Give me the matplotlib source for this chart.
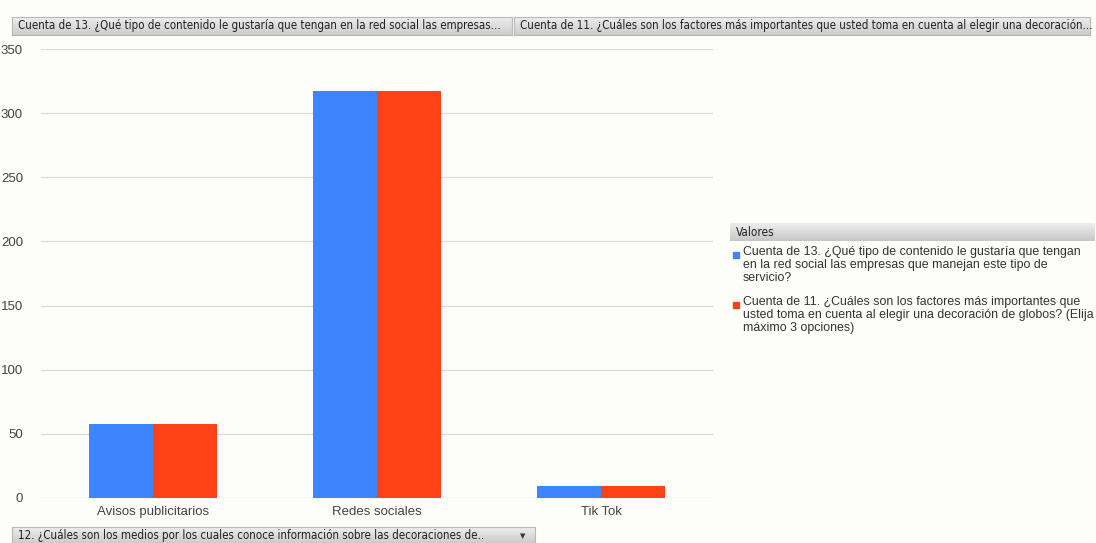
import numpy as np
import matplotlib.pyplot as plt
from matplotlib.patches import Rectangle

categorias = ['Avisos publicitarios', 'Redes sociales', 'Tik Tok']
serie_13 = [58, 317, 9]
serie_11 = [58, 317, 9]
etiqueta_13 = ('Cuenta de 13. ¿Qué tipo de contenido le gustaría que tengan\n'
               'en la red social las empresas que manejan este tipo de\nservicio?')
etiqueta_11 = ('Cuenta de 11. ¿Cuáles son los factores más importantes que\n'
               'usted toma en cuenta al elegir una decoración de globos? (Elija\n'
               'máximo 3 opciones)')
boton_1 = 'Cuenta de 13. ¿Qué tipo de contenido le gustaría que tengan en la red social las empresas...'
boton_2 = 'Cuenta de 11. ¿Cuáles son los factores más importantes que usted toma en cuenta al elegir una decoración...'
boton_eje = '12. ¿Cuáles son los medios por los cuales conoce información sobre las decoraciones de..'

azul = '#3d85fc'
rojo = '#fd4216'
fondo = '#fdfdfa'

plt.rcParams['font.family'] = ['Liberation Sans', 'DejaVu Sans']

W, H = 1096, 543
fig = plt.figure(figsize=(W / 100, H / 100), dpi=100, facecolor=fondo)


def caja(x0, y0, x1, y1):
    # coordenadas en píxeles desde arriba a la izquierda
    return [x0 / W, 1 - y1 / H, (x1 - x0) / W, (y1 - y0) / H]


def boton(x0, y0, x1, y1, texto, flecha=False):
    bx = fig.add_axes(caja(x0, y0, x1, y1))
    grad = np.linspace(0.93, 0.80, 50).reshape(-1, 1)
    bx.imshow(grad, cmap='gray', vmin=0, vmax=1, aspect='auto', extent=[0, 1, 0, 1])
    bx.set_xlim(0, 1)
    bx.set_ylim(0, 1)
    bx.set_xticks([])
    bx.set_yticks([])
    for s in bx.spines.values():
        s.set_color('#b8b8b8')
        s.set_linewidth(0.8)
    bx.text(6 / (x1 - x0), 0.5, texto, va='center', ha='left', fontsize=8.3,
            color='#222222', family=['DejaVu Sans'], stretch='condensed')
    if flecha:
        bx.text(1 - 12 / (x1 - x0), 0.45, '▼', va='center', ha='center',
                fontsize=5, color='#333333', family=['DejaVu Sans'])
    return bx


boton(12, 17, 512, 35, boton_1)
boton(514, 17, 1090, 35, boton_2)
boton(12, 527, 535, 543, boton_eje, flecha=True)

ax = fig.add_axes(caja(41, 49, 713, 498))
ax.set_facecolor(fondo)
x = np.arange(len(categorias))
ancho = 0.285
ax.bar(x - ancho / 2, serie_13, ancho, color=azul, label=etiqueta_13, zorder=3)
ax.bar(x + ancho / 2, serie_11, ancho, color=rojo, label=etiqueta_11, zorder=3)
ax.set_xlim(-0.5, 2.5)
ax.set_ylim(0, 350)
ax.set_yticks(range(0, 351, 50))
ax.set_xticks(x)
ax.set_xticklabels(categorias)
ax.grid(axis='y', color='#dcdcdc', linewidth=0.9, zorder=0)
for s in ax.spines.values():
    s.set_visible(False)
ax.tick_params(length=0, colors='#444444', labelsize=9.5, pad=6)
ax.tick_params(axis='y', pad=13)

# leyenda
lx = fig.add_axes(caja(730, 223, 1095, 241))
grad = np.linspace(0.93, 0.78, 50).reshape(-1, 1)
lx.imshow(grad, cmap='gray', vmin=0, vmax=1, aspect='auto', extent=[0, 1, 0, 1])
lx.set_xticks([])
lx.set_yticks([])
for s in lx.spines.values():
    s.set_visible(False)
lx.text(0.015, 0.5, 'Valores', va='center', ha='left', fontsize=8.5, color='#222222',
        family=['DejaVu Sans'], stretch='condensed')

for color, texto, ytop in [(azul, etiqueta_13, 247), (rojo, etiqueta_11, 297)]:
    fig.patches.append(Rectangle((733 / W, 1 - (ytop + 11) / H), 6 / W, 6 / H,
                                 transform=fig.transFigure, color=color))
    fig.text(743 / W, 1 - (ytop - 1) / H, texto, va='top', ha='left',
             fontsize=8.9, color='#333333', linespacing=1.12)

fig.savefig('out.png', dpi=100, facecolor=fondo)
